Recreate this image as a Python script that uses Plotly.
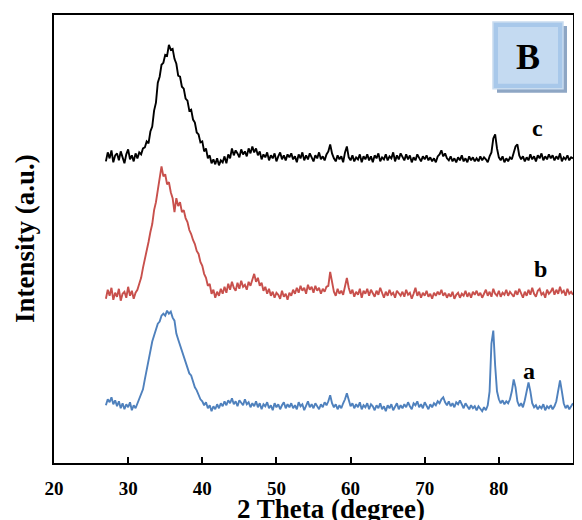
import numpy as np
import plotly.graph_objects as go

# 2-theta grid (degrees), 0.25 deg steps from 27 to 90
two_theta = np.round(np.arange(27.0, 90.001, 0.25), 2)

# Series c (black) - arbitrary intensity units
series_c = [
    303, 312, 306, 314, 302, 309, 311, 304, 313, 307, 301, 310, 315, 305, 309, 303, 311, 306, 312, 310,
    316, 317, 323, 321, 333, 338, 354, 362, 382, 388, 400, 402, 410, 409, 420, 415, 416, 406, 401, 389,
    388, 378, 376, 366, 364, 354, 355, 345, 342, 332, 330, 322, 323, 313, 316, 306, 309, 301, 305, 300,
    306, 299, 304, 302, 308, 301, 310, 306, 316, 309, 314, 311, 307, 315, 310, 313, 308, 316, 311, 318,
    312, 316, 309, 313, 305, 310, 307, 312, 304, 309, 306, 311, 303, 308, 312, 305, 309, 304, 310, 307,
    311, 305, 308, 302, 310, 306, 312, 304, 309, 305, 311, 307, 303, 309, 306, 312, 305, 308, 304, 310,
    313, 320, 311, 306, 303, 309, 305, 308, 302, 312, 318, 307, 304, 309, 303, 307, 305, 310, 302, 308,
    305, 310, 304, 308, 302, 309, 306, 311, 303, 307, 305, 310, 304, 308, 306, 312, 303, 309, 305, 311,
    308, 304, 310, 305, 309, 302, 307, 304, 310, 306, 303, 308, 305, 309, 304, 307, 303, 306, 302, 308,
    310, 314, 308, 311, 306, 304, 308, 303, 306, 302, 307, 304, 309, 303, 306, 302, 308, 304, 307, 303,
    306, 303, 308, 304, 307, 305, 302, 308, 312, 326, 330, 316, 307, 304, 308, 302, 306, 303, 307, 305,
    311, 318, 320, 309, 305, 308, 303, 307, 304, 310, 305, 308, 303, 309, 306, 311, 304, 308, 305, 310,
    306, 309, 304, 308, 305, 311, 303, 307, 305, 309, 304, 307, 306,
]

# Series b (red)
series_b = [
    165, 174, 168, 176, 164, 171, 167, 175, 163, 170, 172, 166, 177, 168, 173, 165, 171, 174, 180, 186,
    196, 204, 214, 222, 232, 240, 254, 262, 274, 284, 298, 288, 290, 280, 282, 272, 266, 252, 266, 258,
    262, 252, 254, 246, 242, 234, 230, 224, 220, 213, 210, 202, 198, 190, 186, 178, 180, 170, 174, 166,
    172, 168, 175, 170, 177, 171, 180, 174, 182, 176, 173, 181, 175, 183, 177, 179, 174, 182, 178, 184,
    190, 182, 186, 178, 181, 173, 177, 170, 175, 168, 172, 166, 171, 169, 165, 173, 167, 170, 164, 171,
    168, 174, 170, 176, 171, 178, 173, 176, 170, 179, 174, 177, 171, 178, 173, 176, 170, 175, 172, 177,
    178, 192, 180, 172, 168, 175, 170, 173, 169, 178, 186, 176, 170, 174, 167, 172, 169, 175, 166, 173,
    170, 175, 168, 174, 171, 167, 173, 169, 176, 170, 166, 172, 168, 174, 169, 171, 166, 173, 170, 168,
    172, 167, 174, 169, 171, 165, 170, 176, 168, 172, 166, 171, 168, 173, 167, 170, 165, 171, 168, 172,
    169, 174, 168, 171, 166, 170, 167, 172, 165, 169, 171, 166, 170, 168, 173, 167, 171, 166, 172, 169,
    173, 168, 171, 166, 170, 174, 168, 172, 167, 175, 170, 168, 173, 167, 171, 169, 174, 168, 172, 170,
    167, 173, 169, 175, 170, 166, 172, 168, 174, 169, 176, 170, 167, 173, 175, 169, 171, 166, 174, 170,
    172, 176, 169, 174, 170, 177, 171, 173, 168, 175, 170, 172, 169,
]

# Series a (blue)
series_a = [
    58, 64, 61, 66, 59, 63, 57, 62, 55, 60, 54, 59, 56, 61, 53, 58, 55, 60, 66, 70,
    74, 84, 94, 104, 114, 122, 128, 134, 140, 142, 148, 150, 148, 153, 150, 152, 146, 143, 130, 124,
    118, 114, 106, 102, 96, 90, 88, 82, 76, 73, 68, 64, 62, 58, 61, 55, 58, 52, 57, 54,
    59, 55, 60, 57, 62, 58, 63, 60, 65, 59, 62, 57, 63, 60, 58, 64, 59, 61, 56, 60,
    57, 62, 56, 60, 54, 59, 57, 61, 55, 58, 53, 60, 56, 59, 54, 58, 61, 55, 59, 56,
    60, 55, 58, 54, 61, 57, 59, 53, 58, 62, 56, 59, 55, 60, 57, 54, 59, 56, 61, 58,
    62, 68, 60, 56, 59, 54, 58, 55, 60, 64, 70, 62, 57, 60, 55, 59, 56, 61, 54, 58,
    56, 60, 54, 59, 57, 53, 58, 55, 60, 54, 57, 52, 58, 55, 59, 53, 57, 60, 54, 58,
    55, 59, 56, 61, 57, 54, 60, 58, 62, 56, 59, 55, 61, 57, 54, 59, 56, 60, 58, 62,
    60, 64, 66, 61, 58, 62, 57, 60, 56, 61, 59, 63, 58, 55, 60, 57, 54, 58, 55, 57,
    53, 57, 54, 52, 56, 53, 58, 72, 120, 133, 98, 72, 64, 60, 63, 59, 62, 60, 64, 72,
    84, 76, 62, 57, 60, 56, 63, 74, 81, 72, 60, 56, 58, 54, 57, 55, 59, 53, 57, 55,
    58, 54, 57, 62, 74, 83, 72, 60, 55, 58, 54, 57, 60,
]

curve_labels = ["c", "b", "a"]
label_x = [85.2, 85.6, 84.0]
label_y = [336, 195, 92]

x_ticks = [20, 30, 40, 50, 60, 70, 80, 90]
x_title = "2 Theta (degree)"
y_title = "Intensity (a.u.)"
panel_letter = "B"

FONT = "Liberation Serif"

# Page has an 8px body margin, so the figure is sized to fit inside the window.
W, H = 574, 512
L, R, T, B = 46, 9, 5, 57
PW, PH = W - L - R, H - T - B   # 519 x 450
OFF = 8

def px2paper_x(p):
    return (p - OFF - L) / PW

def px2paper_y(p):
    return (H - B + OFF - p) / PH

fig = go.Figure()
for vals, col in [(series_a, "#4F81BD"), (series_b, "#C8504C"), (series_c, "#000000")]:
    fig.add_trace(go.Scatter(x=two_theta, y=vals, mode="lines",
                             line=dict(color=col, width=1.9), showlegend=False,
                             hoverinfo="skip"))

for t, xx, yy in zip(curve_labels, label_x, label_y):
    fig.add_annotation(x=xx, y=yy, text=f"<b>{t}</b>", showarrow=False,
                       xanchor="center", yanchor="middle",
                       font=dict(family=FONT, size=24, color="black"))

# axis titles
fig.add_annotation(xref="paper", yref="paper", x=px2paper_x(331), y=px2paper_y(509),
                   text=f"<b>{x_title}</b>",
                   showarrow=False, xanchor="center", yanchor="middle",
                   font=dict(family=FONT, size=27, color="black"))
fig.add_annotation(xref="paper", yref="paper", x=px2paper_x(25), y=px2paper_y(238),
                   text=f"<b>{y_title}</b>",
                   showarrow=False, textangle=-90, xanchor="center", yanchor="middle",
                   font=dict(family=FONT, size=27, color="black"))

# panel letter box
fig.add_shape(type="rect", xref="paper", yref="paper",
              x0=px2paper_x(497), x1=px2paper_x(567), y0=px2paper_y(91), y1=px2paper_y(24),
              fillcolor="#8ea6c4", line=dict(width=0), layer="above")
fig.add_shape(type="rect", xref="paper", yref="paper",
              x0=px2paper_x(493), x1=px2paper_x(563), y0=px2paper_y(87), y1=px2paper_y(20),
              fillcolor="#a8c8ea", line=dict(color="#c9dcef", width=1.5), layer="above")
fig.add_shape(type="rect", xref="paper", yref="paper",
              x0=px2paper_x(498), x1=px2paper_x(558), y0=px2paper_y(82), y1=px2paper_y(25),
              fillcolor="#c4daf1", line=dict(width=0), layer="above")
fig.add_annotation(xref="paper", yref="paper", x=px2paper_x(528), y=px2paper_y(55),
                   text=f"<b>{panel_letter}</b>", showarrow=False,
                   xanchor="center", yanchor="middle",
                   font=dict(family=FONT, size=36, color="black"))

fig.update_layout(
    width=W, height=H,
    margin=dict(l=L, r=R, t=T, b=B, pad=0),
    paper_bgcolor="white", plot_bgcolor="white",
    xaxis=dict(range=[20, 90], tickvals=x_ticks, ticktext=[f"<b>{v}</b>" for v in x_ticks],
               ticks="inside", ticklen=6, tickwidth=1.5, tickcolor="black",
               showline=True, linecolor="black", linewidth=2, mirror=True,
               showgrid=False, zeroline=False, ticklabelstandoff=7,
               tickfont=dict(family=FONT, size=19, color="black")),
    yaxis=dict(range=[0, 450], showticklabels=False, ticks="",
               showline=True, linecolor="black", linewidth=2, mirror=True,
               showgrid=False, zeroline=False),
)

fig.write_html("out.html")
